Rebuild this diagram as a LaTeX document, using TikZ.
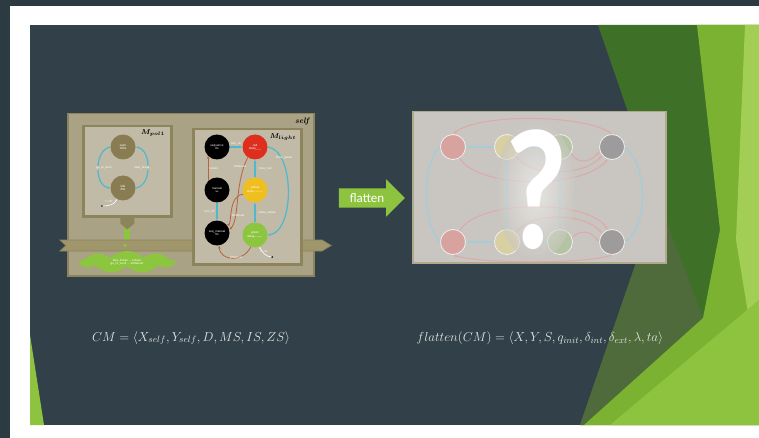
\RequirePackage{fix-cm}
\documentclass[tikz,border=0pt]{standalone}
\usepackage{amsmath}
\usepackage{fontspec}
\newfontfamily\qfont{Carlito}
\newfontfamily\labfont{Liberation Sans}
\usetikzlibrary{arrows.meta,shapes.symbols,shapes.arrows,calc}
\definecolor{outerdark}{HTML}{2C3A42}
\definecolor{slate}{HTML}{324149}
\definecolor{dkgreen}{HTML}{3F7028}
\definecolor{olivegr}{HTML}{4F6A3B}
\definecolor{midgreen}{HTML}{7BB232}
\definecolor{ltgreen}{HTML}{8EC33F}
\definecolor{palegreen}{HTML}{A3CE55}
\definecolor{khaki}{HTML}{8E845C}
\definecolor{bandfill}{HTML}{A0966C}
\definecolor{selffill}{HTML}{AAA285}
\definecolor{innerfill}{HTML}{C0BAA6}
\definecolor{oliveball}{HTML}{8A7C52}
\definecolor{cyanedge}{HTML}{4DB8CF}
\definecolor{rustedge}{HTML}{B8643E}
\definecolor{redball}{HTML}{DD2E1E}
\definecolor{yellowball}{HTML}{EFBF1F}
\definecolor{greenball}{HTML}{8CC63F}
\definecolor{boxgray}{HTML}{C9C6C1}
\definecolor{fadered}{HTML}{D8A29E}
\definecolor{fadeyellow}{HTML}{D8CFA2}
\definecolor{fadegreen}{HTML}{B4C4A2}
\definecolor{fadegray}{HTML}{9D9B9B}
\definecolor{fadecyan}{HTML}{A5CCD8}
\definecolor{fadepink}{HTML}{DCAAA8}
\definecolor{formula}{HTML}{E4E6E6}
\tikzset{
  tiny/.style={font=\labfont\fontsize{3}{3.5}\selectfont, text=white, inner sep=0pt, align=center},
  ball/.style={circle, minimum size=25pt, inner sep=0pt, tiny},
  cyanarr/.style={draw=cyanedge, line width=1.2pt, -{Stealth[length=3pt]}},
  rustarr/.style={draw=rustedge, line width=0.8pt, -{Stealth[length=3pt]}},
  elabel/.style={tiny},
  initarr/.style={draw=white, line width=0.6pt, -{Stealth[length=2pt]}},
  fball/.style={circle, minimum size=25pt, inner sep=0pt, draw=white!88!gray, line width=0.8pt},
  fcyan/.style={draw=fadecyan, line width=1.4pt, -{Stealth[length=4pt]}},
  fpink/.style={draw=fadepink, line width=1.1pt, -{Stealth[length=4pt]}},
  panel/.style={anchor=north west, inner sep=0pt},
  qmark/.style={font=\qfont\bfseries\fontsize{172}{172}\selectfont, text=white, inner sep=0pt},
}
\begin{document}
\begin{tikzpicture}[x=1pt,y=-1pt]
\useasboundingbox (0,0) rectangle (759,438);
% slide background
\fill[outerdark] (0,0) rectangle (759,438);
\fill[white] (10,6) rectangle (759,438);
\fill[slate] (30,25) rectangle (759,425);
\fill[dkgreen] (598,25) -- (759,25) -- (759,425) -- (580,425) -- (658,199) -- cycle;
\fill[olivegr] (658,199) -- (703,318) -- (584,425) -- (580,425) -- cycle;
\fill[midgreen] (697,25) -- (759,25) -- (759,425) -- (584,425) -- (703,318) -- (720,230) -- cycle;
\fill[palegreen] (745,25) -- (759,25) -- (759,380) -- (736,240) -- cycle;
\fill[ltgreen] (610,425) -- (759,300) -- (759,425) -- cycle;
\fill[ltgreen] (30,335) -- (44,425) -- (30,425) -- cycle;

% ===== left: coupled model =====
\node[panel, draw=khaki, fill=selffill, line width=1.5pt, minimum width=246pt, minimum height=162pt] (self) at (67,113) {};
\node[panel, draw=khaki, fill=innerfill, line width=2.5pt, minimum width=88pt, minimum height=90pt] (pol) at (82,125) {};
\draw[greenball, line width=6pt] (pol.south) -- ++(0,37) coordinate (gend);
\fill[bandfill, draw=khaki, line width=0.8pt] (60,240) -- (322,240) -- (331,245.5) -- (322,251) -- (60,251) -- (66,245.5) -- cycle;
\fill[greenball] (125,245.5) circle (1.6pt);
\node[cloud, cloud puffs=9, cloud puff arc=90, aspect=4.5, fill=greenball, minimum width=94pt, minimum height=22pt, tiny] (cloud) at (127,262) {take\_break → toAuto\\ go\_to\_work → toManual};
\fill[khaki] ($(pol.south)+(-7,0)$) -- ++(14,0) -- ++(0,6) -- ++(-7,6) -- ++(-7,-6) -- cycle;
\node[panel, draw=khaki, fill=innerfill, line width=2.5pt, minimum width=108pt, minimum height=135pt] (light) at (192,128) {};

\node[font=\bfseries\itshape\fontsize{8}{8}\selectfont] (selflab) at (302,122) {self};
\node[font=\fontsize{7}{7}\selectfont] (pollab) at (153,133) {$\boldsymbol{M_{pol1}}$};
\node[font=\fontsize{7}{7}\selectfont] (lightlab) at (283,137) {$\boldsymbol{M_{light}}$};

% M_pol1 states
\node[ball, fill=oliveball] (pwork) at (123,147) {work\\ 180s};
\node[ball, fill=oliveball] (pidle) at (123,188) {idle\\ 60s};
\draw[cyanarr] (pwork.west) .. controls (94,150) and (94,186) .. (pidle.west);
\draw[cyanarr] (pidle.east) .. controls (152,186) and (152,150) .. (pwork.east);
\node[elabel, fill=innerfill, inner sep=0.5pt] (lgo) at (104,168) {go\_to\_work};
\node[elabel, fill=innerfill, inner sep=0.5pt] (ltb) at (142,168) {take\_break};
\coordinate (pinit) at (102,206);
\fill[black] (pinit) circle (1pt);
\draw[initarr] (pinit) to[out=0,in=-110] (pidle.-120);
\node[elabel] (pinitlab) at (109,201) {t = 0s};

% M_light states
\node[ball, fill=black] (b1) at (217,147) {sequence\\ 0s};
\node[ball, fill=redball] (red) at (255,147) {red\\ delay$_{red}$};
\node[ball, fill=black] (b2) at (217,190) {manual\\ $\infty$};
\node[ball, fill=yellowball] (yel) at (255,190) {yellow\\ delay$_{yellow}$};
\node[ball, fill=black] (b3) at (217,233) {seq\_manual\\ 0s};
\node[ball, fill=greenball] (grn) at (255,235) {green\\ delay$_{green}$};

\draw[cyanarr] (b1) -- (red) node[midway, above=1pt, elabel] {turn\_on};
\draw[cyanarr] (yel) -- (red) node[midway, right=3pt, elabel] {show\_red};
\draw[cyanarr] (grn) -- (yel) node[midway, right=3pt, elabel] {show\_yellow};
\draw[cyanarr] (red.east) .. controls (295,150) and (295,232) .. (grn.east);
\node[elabel] (lsg) at (284,158) {show\_green};
\draw[cyanarr] (b2) -- (b3) node[midway, left=2pt, elabel] {turn\_off};
\draw[rustarr] (b2.north west) -- (b1.south west) node[midway, right=1pt, elabel] {toAuto};
\draw[rustarr] (red.235) .. controls (234,185) and (240,220) .. (b3.15);
\draw[rustarr] (yel.200) .. controls (228,195) and (232,225) .. (b3.40);
\draw[rustarr] (grn.250) .. controls (244,262) and (220,262) .. (b3.-80);
\node[elabel] (ltm1) at (240,166) {toManual};
\node[elabel] (ltm2) at (238,215) {toManual};
\node[elabel] (ltm3) at (236,257) {toManual};
\coordinate (linit) at (272,257);
\fill[black] (linit) circle (1pt);
\draw[initarr] (linit) to[out=180,in=-60] (grn.-70);
\node[elabel] (linitlab) at (264,251) {t = 0s};

% flatten arrow
\node[single arrow, single arrow head extend=9pt, fill=ltgreen, minimum height=66pt, inner sep=5pt, text=white, font=\qfont\fontsize{13}{13}\selectfont] (flatarr) at (367,198) {flatten};

% ===== right: flattened model =====
\node[panel, draw=khaki!70!white, fill=boxgray, line width=1.5pt, minimum width=253pt, minimum height=151pt] (flatbox) at (412,111) {};
\node[fball, fill=fadered] (R1) at (453,147) {};
\node[fball, fill=fadeyellow] (Y1) at (507,147) {};
\node[fball, fill=fadegreen] (G1) at (560,147) {};
\node[fball, fill=fadegray] (K1) at (612,147) {};
\node[fball, fill=fadered] (R2) at (453,242) {};
\node[fball, fill=fadeyellow] (Y2) at (507,242) {};
\node[fball, fill=fadegreen] (G2) at (560,242) {};
\node[fball, fill=fadegray] (K2) at (612,242) {};
\draw[fpink] (K1.north) .. controls (590,115) and (480,112) .. (R1.north);
\draw[fcyan] (Y1) -- (R1);
\draw[fcyan] (G1) -- (Y1);
\draw[fpink] (R1.-60) .. controls (480,190) and (585,188) .. (K1.-110);
\draw[fpink] (Y1.-45) .. controls (530,178) and (585,176) .. (K1.-140);
\draw[fpink] (G1.-30) .. controls (578,165) and (590,162) .. (K1.200);
\draw[fcyan] (Y2) -- (Y1);
\draw[fcyan] (G1) -- (G2);
\draw[fcyan] (R2.west) .. controls (422,225) and (422,165) .. (R1.west);
\draw[fcyan] (K1.east) .. controls (648,165) and (648,225) .. (K2.east);
\draw[fcyan] (Y2) -- (R2);
\draw[fcyan] (G2) -- (Y2);
\draw[fpink] (R2.60) .. controls (480,198) and (590,200) .. (K2.110);
\draw[fpink] (Y2.45) .. controls (530,212) and (585,212) .. (K2.140);
\draw[fpink] (G2.20) .. controls (580,230) and (590,230) .. (K2.180);
\draw[fpink] (K2.south) .. controls (590,264) and (480,264) .. (R2.south);
% question mark with soft glow
\shade[inner color=white, outer color=boxgray, opacity=0.55] (536,190) ellipse (40pt and 70pt);
\node[qmark, xscale=0.8, transform shape] (qm) at (536,190) {?};

% formulas
\node[text=formula, font=\fontsize{13}{15}\selectfont] (cmf) at (191,338) {$CM = \langle X_{self}, Y_{self}, D, MS, IS, ZS\rangle$};
\node[text=formula, font=\fontsize{13}{15}\selectfont] (flf) at (540,338) {$flatten(CM) = \langle X, Y, S, q_{init}, \delta_{int}, \delta_{ext}, \lambda, ta\rangle$};
\end{tikzpicture}
\end{document}
